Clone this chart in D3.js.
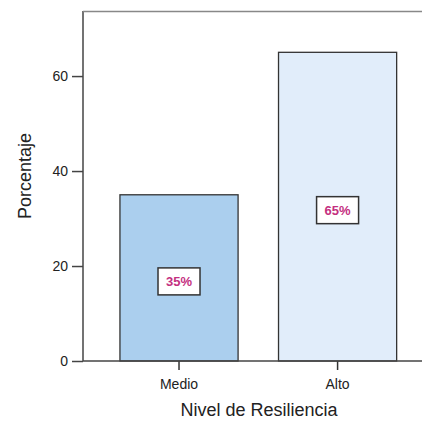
<!DOCTYPE html>
<html><head><meta charset="utf-8">
<script src="https://cdn.jsdelivr.net/npm/d3@7"></script>
<style>body{margin:0;background:#fff;overflow:hidden}svg{display:block}text{font-family:"Liberation Sans",Arial,sans-serif}</style>
</head><body><svg id="c" width="422" height="431"></svg>
<script>
const categories = ["Medio", "Alto"];
const values = [35, 65];
const labels = ["35%", "65%"];
const yTicks = [0, 20, 40, 60];
const fills = ["#abcfee", "#e1edfa"];

(function () {
const svg = d3.select("#c");
const mLeft = 83, mTop = 11, mBottom = 361;
const y = d3.scaleLinear().domain([0, 73.7]).range([mBottom, mTop]);
const x = d3.scaleBand().domain(categories).range([83, 433.6]).paddingInner(0.255).paddingOuter(0.233);

// bars
svg.selectAll("rect.bar").data(values).join("rect").attr("class", "bar")
  .attr("x", (d, i) => x(categories[i]))
  .attr("y", d => y(d))
  .attr("width", x.bandwidth())
  .attr("height", d => y(0) - y(d))
  .attr("fill", (d, i) => fills[i])
  .attr("stroke", "#333").attr("stroke-width", 1.3);

// y axis
const ya = svg.append("g").attr("transform", `translate(${mLeft},0)`)
  .call(d3.axisLeft(y).tickValues(yTicks).tickSize(11).tickPadding(4).tickSizeOuter(0));
ya.select(".domain").remove();
ya.selectAll(".tick line").attr("stroke", "#444").attr("stroke-width", 1.5);
ya.selectAll(".tick text").attr("font-size", 14).attr("fill", "#222")
  .attr("font-family", "'Liberation Sans',Arial,sans-serif");

// x axis
const xa = svg.append("g").attr("transform", `translate(0,${mBottom})`)
  .call(d3.axisBottom(x).tickSize(9).tickPadding(9).tickSizeOuter(0));
xa.select(".domain").remove();
xa.selectAll(".tick line").attr("stroke", "#333").attr("stroke-width", 1.5);
xa.selectAll(".tick text").attr("font-size", 14).attr("fill", "#222")
  .attr("font-family", "'Liberation Sans',Arial,sans-serif");

// cover strip at right edge (plot continues beyond the window; no right border)
svg.append("rect").attr("x", 404).attr("y", mTop + 2).attr("width", 18).attr("height", mBottom - mTop - 4)
  .attr("fill", "#fff");

// frame lines: left axis, bottom axis, top border
svg.append("line").attr("x1", mLeft).attr("x2", 422).attr("y1", y(0)).attr("y2", y(0))
  .attr("stroke", "#444").attr("stroke-width", 1.5);
svg.append("line").attr("x1", mLeft).attr("x2", mLeft).attr("y1", y(0)).attr("y2", mTop)
  .attr("stroke", "#444").attr("stroke-width", 1.5);
svg.append("line").attr("x1", mLeft).attr("x2", 422).attr("y1", mTop + 0.5).attr("y2", mTop + 0.5)
  .attr("stroke", "#888").attr("stroke-width", 1.5);

// value label boxes
const lg = svg.selectAll("g.lab").data(values).join("g").attr("class", "lab")
  .attr("transform", (d, i) => `translate(${x(categories[i]) + x.bandwidth() / 2},${y(d / 2) + 3})`);
lg.append("rect").attr("x", -21).attr("y", -13).attr("width", 42).attr("height", 27)
  .attr("fill", "#fff").attr("stroke", "#333").attr("stroke-width", 1.5);
lg.append("text").text((d, i) => labels[i]).attr("text-anchor", "middle").attr("dy", "0.4em")
  .attr("font-size", 13).attr("font-weight", "bold").attr("fill", "#c4307f");

// axis titles
svg.append("text").attr("x", 259).attr("y", 416).attr("text-anchor", "middle")
  .attr("font-size", 18).attr("fill", "#222").text("Nivel de Resiliencia");
svg.append("text").attr("transform", "translate(31,176) rotate(-90)").attr("text-anchor", "middle")
  .attr("font-size", 18).attr("fill", "#222").text("Porcentaje");
})();
</script></body></html>
